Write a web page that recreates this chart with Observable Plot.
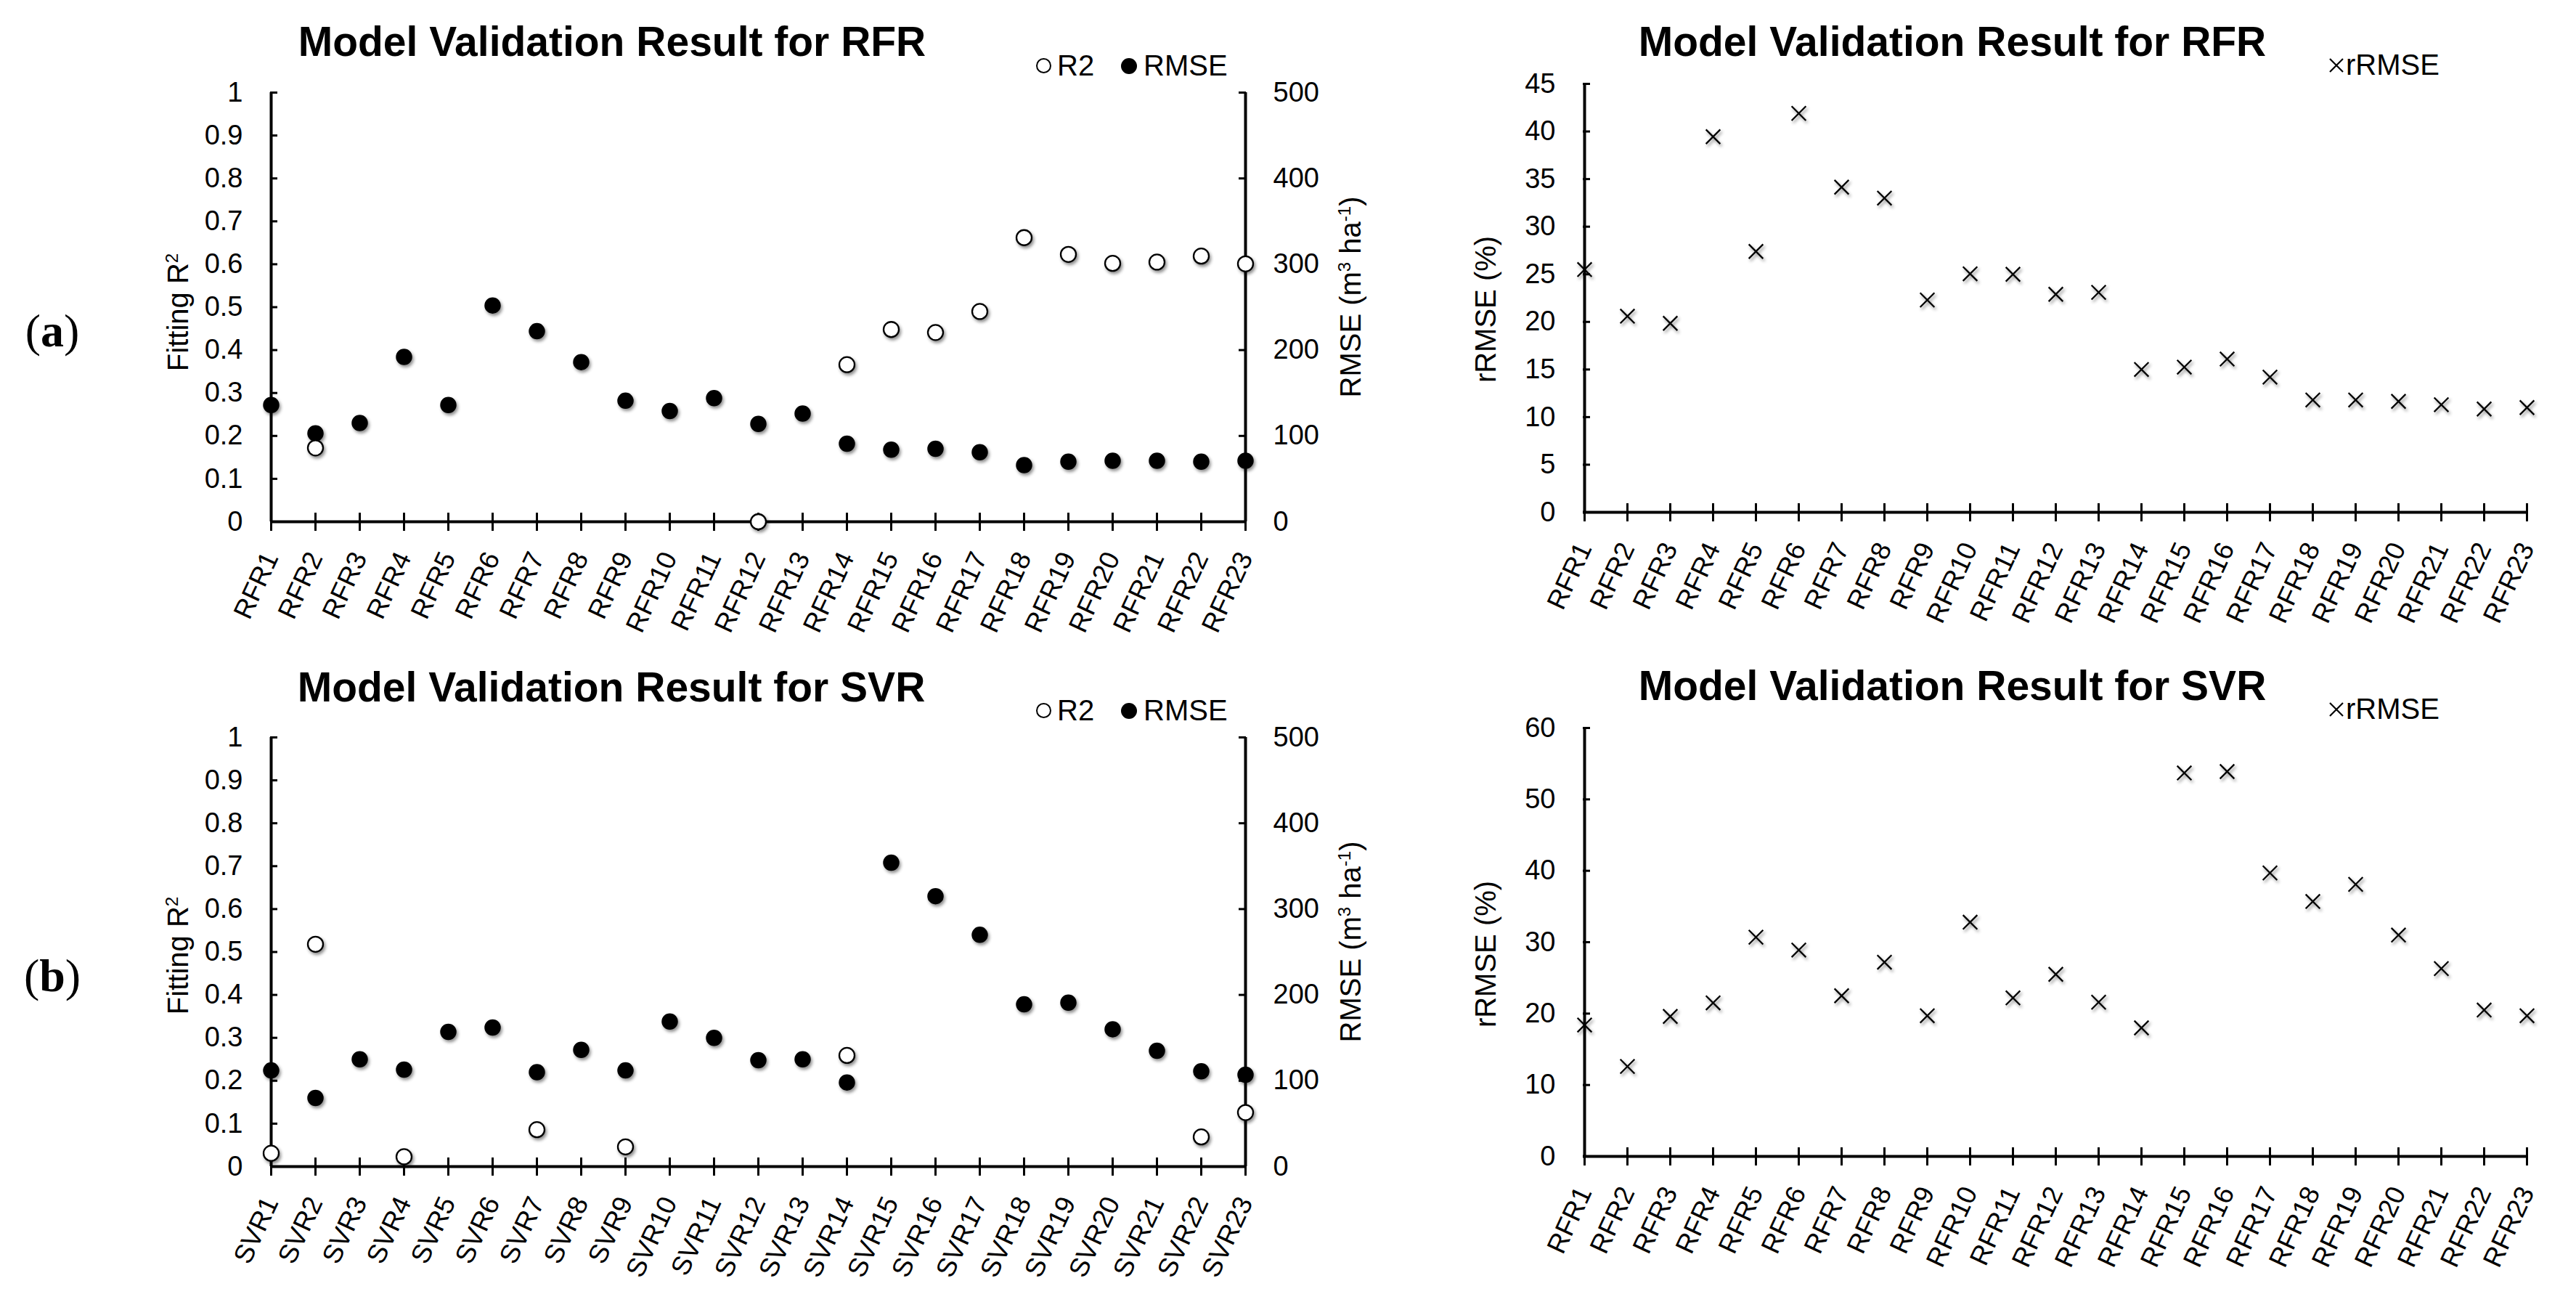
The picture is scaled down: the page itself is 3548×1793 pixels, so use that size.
<!DOCTYPE html>
<html>
<head>
<meta charset="utf-8">
<script src="https://cdn.jsdelivr.net/npm/d3@7"></script>
<script src="https://cdn.jsdelivr.net/npm/@observablehq/plot@0.6"></script>
<style>
  body { margin: 0; background: #fff; }
  #page { position: relative; width: 3548px; height: 1793px; background: #fff; overflow: hidden;
          font-family: "Liberation Sans", Arial, sans-serif; color: #000; }
  .layer { position: absolute; }
  .layer svg { overflow: visible; max-width: none; display: block; }
  .title { position: absolute; font-weight: bold; font-size: 57px; line-height: 57px; white-space: nowrap; transform: translateX(-50%); }
  .leg { position: absolute; font-size: 40px; line-height: 40px; white-space: nowrap; }
  .vlab { position: absolute; font-size: 40px; line-height: 1; white-space: nowrap; transform: translate(-50%, -50%) rotate(-90deg); }
  .vlab sup { font-size: 0.6em; vertical-align: super; line-height: 0; }
  .panel { position: absolute; font-family: "Liberation Serif", "Times New Roman", serif; font-size: 64px; line-height: 1; transform: translate(-50%, -50%); }
  .mk { position: absolute; border-radius: 50%; box-sizing: border-box; }
  g[aria-label="dot"] circle, g[aria-label="dot"] path { filter: drop-shadow(2px 3px 2px rgba(0,0,0,0.45)); }
</style>
</head>
<body>
<div id="page"></div>
<script>
// ---------------- DATA ----------------
const rfrModels = ["RFR1","RFR2","RFR3","RFR4","RFR5","RFR6","RFR7","RFR8","RFR9","RFR10","RFR11","RFR12",
                   "RFR13","RFR14","RFR15","RFR16","RFR17","RFR18","RFR19","RFR20","RFR21","RFR22","RFR23"];
const svrModels = ["SVR1","SVR2","SVR3","SVR4","SVR5","SVR6","SVR7","SVR8","SVR9","SVR10","SVR11","SVR12",
                   "SVR13","SVR14","SVR15","SVR16","SVR17","SVR18","SVR19","SVR20","SVR21","SVR22","SVR23"];

// Fitting R2 (null = not shown in the figure)
const rfrR2 = [null, 0.172, null, null, null, null, null, null, null, null, null, 0.0,
               null, 0.366, 0.448, 0.441, 0.490, 0.662, 0.623, 0.602, 0.605, 0.619, 0.601];
// RMSE (m3 ha-1)
const rfrRMSE = [136, 103, 115, 192, 136, 252, 222, 186, 141, 129, 144, 114,
                 126, 91, 84, 85, 81, 66, 70, 71, 71, 70, 71];

const svrR2 = [0.031, 0.518, null, 0.023, null, null, 0.086, null, 0.046, null, null, null,
               null, 0.259, null, null, null, null, null, null, null, 0.069, 0.126];
const svrRMSE = [112, 80, 125, 113, 157, 162, 110, 136, 112, 169, 150, 124,
                 125, 98, 354, 315, 270, 189, 191, 160, 135, 111, 107];

// rRMSE (%) — right-hand panels (both labelled RFR1..RFR23 in the figure)
const rfrRRMSE = [25.5, 20.6, 19.85, 39.45, 27.4, 41.9, 34.15, 33.0, 22.3, 25.05, 25.0, 22.9,
                  23.1, 15.0, 15.25, 16.1, 14.2, 11.8, 11.8, 11.65, 11.3, 10.85, 11.0];
const svrRRMSE = [18.4, 12.6, 19.6, 21.5, 30.7, 28.9, 22.5, 27.2, 19.7, 32.8, 22.2, 25.5,
                  21.6, 18.0, 53.7, 53.9, 39.7, 35.7, 38.1, 31.0, 26.3, 20.5, 19.7];
const svrRightLabels = rfrModels;

// tick values
const r2Ticks = [0, 0.1, 0.2, 0.3, 0.4, 0.5, 0.6, 0.7, 0.8, 0.9, 1];
const rmseTicks = [0, 100, 200, 300, 400, 500];
const rrmseTicksTop = [0, 5, 10, 15, 20, 25, 30, 35, 40, 45];
const rrmseTicksBottom = [0, 10, 20, 30, 40, 50, 60];

// ---------------- LAYOUT HELPERS ----------------
const page = document.getElementById("page");
const FONT = "'Liberation Sans', Arial, sans-serif";

function place(node, left, top) {
  const d = document.createElement("div");
  d.className = "layer";
  d.style.left = left + "px";
  d.style.top = top + "px";
  d.appendChild(node);
  page.appendChild(d);
}
function html(str) {
  page.insertAdjacentHTML("beforeend", str);
}

function xAxisMarks() {
  return [
    Plot.axisX({tickSize: 25, dy: -12, strokeWidth: 3, tickFormat: () => "", label: null}),
    Plot.axisX({tickSize: 0, tickPadding: 44, tickRotate: -65, textAnchor: "end", lineAnchor: "middle",
                fontSize: 37, label: null})
  ];
}

function dualPanel(cats, r2, rmse, g) {
  const rows = cats.map((c, i) => ({cat: c, r2: r2[i], rmse: rmse[i]}));
  const base = {
    width: g.width, height: g.height,
    marginLeft: g.mL, marginRight: g.mR, marginTop: g.mT, marginBottom: g.mB,
    style: {fontFamily: FONT, fontSize: "38px", background: "transparent", overflow: "visible", color: "black"},
    x: {type: "point", domain: cats, padding: 0}
  };
  // bottom layer: frame lines, x axis, RMSE axis and RMSE dots
  const bottom = Plot.plot({
    ...base,
    y: {domain: [0, 500]},
    marks: [
      Plot.ruleX([cats[0], cats[cats.length - 1]], {stroke: "black", strokeWidth: 4}),
      Plot.ruleY([0], {stroke: "black", strokeWidth: 4}),
      ...xAxisMarks(),
      Plot.axisY({anchor: "right", ticks: rmseTicks, tickSize: 10, dx: -10, strokeWidth: 3, tickFormat: () => "", label: null}),
      Plot.axisY({anchor: "right", ticks: rmseTicks, tickSize: 0, tickPadding: 38, tickFormat: d => String(d), label: null}),
      Plot.dot(rows.filter(d => d.rmse != null), {x: "cat", y: "rmse", r: 10.5, fill: "black", stroke: "black", strokeWidth: 1.5})
    ]
  });
  // top layer: R2 axis and R2 dots
  const top = Plot.plot({
    ...base,
    x: {type: "point", domain: cats, padding: 0, axis: null},
    y: {domain: [0, 1]},
    marks: [
      Plot.axisY({anchor: "left", ticks: r2Ticks, tickSize: 10, dx: 10, strokeWidth: 3, tickFormat: () => "", label: null}),
      Plot.axisY({anchor: "left", ticks: r2Ticks, tickSize: 0, tickPadding: 38, tickFormat: d => String(d), label: null}),
      Plot.dot(rows.filter(d => d.r2 != null), {x: "cat", y: "r2", r: 10.5, fill: "white", stroke: "black", strokeWidth: 2.3})
    ]
  });
  place(bottom, g.left, g.top);
  place(top, g.left, g.top);
}

function rrmsePanel(cats, vals, ticks, g) {
  const rows = cats.map((c, i) => ({cat: c, v: vals[i]}));
  const p = Plot.plot({
    width: g.width, height: g.height,
    marginLeft: g.mL, marginRight: g.mR, marginTop: g.mT, marginBottom: g.mB,
    style: {fontFamily: FONT, fontSize: "38px", background: "transparent", overflow: "visible", color: "black"},
    x: {type: "point", domain: cats, padding: 0},
    y: {domain: [ticks[0], ticks[ticks.length - 1]]},
    marks: [
      Plot.ruleX([cats[0]], {stroke: "black", strokeWidth: 4}),
      Plot.ruleY([0], {stroke: "black", strokeWidth: 4}),
      ...xAxisMarks(),
      Plot.axisY({anchor: "left", ticks, tickSize: 10, dx: 10, strokeWidth: 3, tickFormat: () => "", label: null}),
      Plot.axisY({anchor: "left", ticks, tickSize: 0, tickPadding: 38, tickFormat: d => String(d), label: null}),
      Plot.dot(rows, {x: "cat", y: "v", symbol: "times", r: 9, stroke: "black", strokeWidth: 2.3, fill: "none"})
    ]
  });
  place(p, g.left, g.top);
}

// ---------------- PANELS ----------------
dualPanel(rfrModels, rfrR2, rfrRMSE, {left: 160, top: 90, width: 1740, height: 800, mL: 212, mR: 185, mT: 37, mB: 172});
dualPanel(svrModels, svrR2, svrRMSE, {left: 160, top: 978, width: 1740, height: 800, mL: 212, mR: 185, mT: 37, mB: 172});
rrmsePanel(rfrModels, rfrRRMSE, rrmseTicksTop, {left: 2000, top: 78, width: 1548, height: 800, mL: 180, mR: 66, mT: 37, mB: 173});
rrmsePanel(svrRightLabels, svrRRMSE, rrmseTicksBottom, {left: 2000, top: 965, width: 1548, height: 800, mL: 180, mR: 66, mT: 37, mB: 173});

// ---------------- TEXT ----------------
html('<div class="title" style="left:843px;top:29px">Model Validation Result for RFR</div>');
html('<div class="title" style="left:842px;top:918px">Model Validation Result for SVR</div>');
html('<div class="title" style="left:2689px;top:29px">Model Validation Result for RFR</div>');
html('<div class="title" style="left:2689px;top:916px">Model Validation Result for SVR</div>');

html('<div class="panel" style="left:72px;top:456px">(<b>a</b>)</div>');
html('<div class="panel" style="left:72px;top:1344px">(<b>b</b>)</div>');

html('<div class="vlab" style="left:245px;top:430px">Fitting R<sup>2</sup></div>');
html('<div class="vlab" style="left:245px;top:1316px">Fitting R<sup>2</sup></div>');
html('<div class="vlab" style="left:1860px;top:409px">RMSE (m<sup>3</sup> ha<sup>-1</sup>)</div>');
html('<div class="vlab" style="left:1860px;top:1297px">RMSE (m<sup>3</sup> ha<sup>-1</sup>)</div>');
html('<div class="vlab" style="left:2046px;top:426px">rRMSE (%)</div>');
html('<div class="vlab" style="left:2046px;top:1314px">rRMSE (%)</div>');

// legends
function dualLegend(top) {
  html(`<span class="mk" style="left:1427px;top:${top + 10}px;width:21px;height:21px;border:2px solid #000;background:#fff"></span>`);
  html(`<div class="leg" style="left:1456px;top:${top}px">R2</div>`);
  html(`<span class="mk" style="left:1544px;top:${top + 10}px;width:22px;height:22px;background:#000"></span>`);
  html(`<div class="leg" style="left:1575px;top:${top}px">RMSE</div>`);
}
function xLegend(top) {
  html(`<svg style="position:absolute;left:3207px;top:${top + 10}px" width="22" height="22"><path d="M2,2L20,20M20,2L2,20" stroke="#000" stroke-width="2.2"/></svg>`);
  html(`<div class="leg" style="left:3231px;top:${top}px">rRMSE</div>`);
}
dualLegend(70);
dualLegend(958);
xLegend(69);
xLegend(956);
</script>
</body>
</html>
